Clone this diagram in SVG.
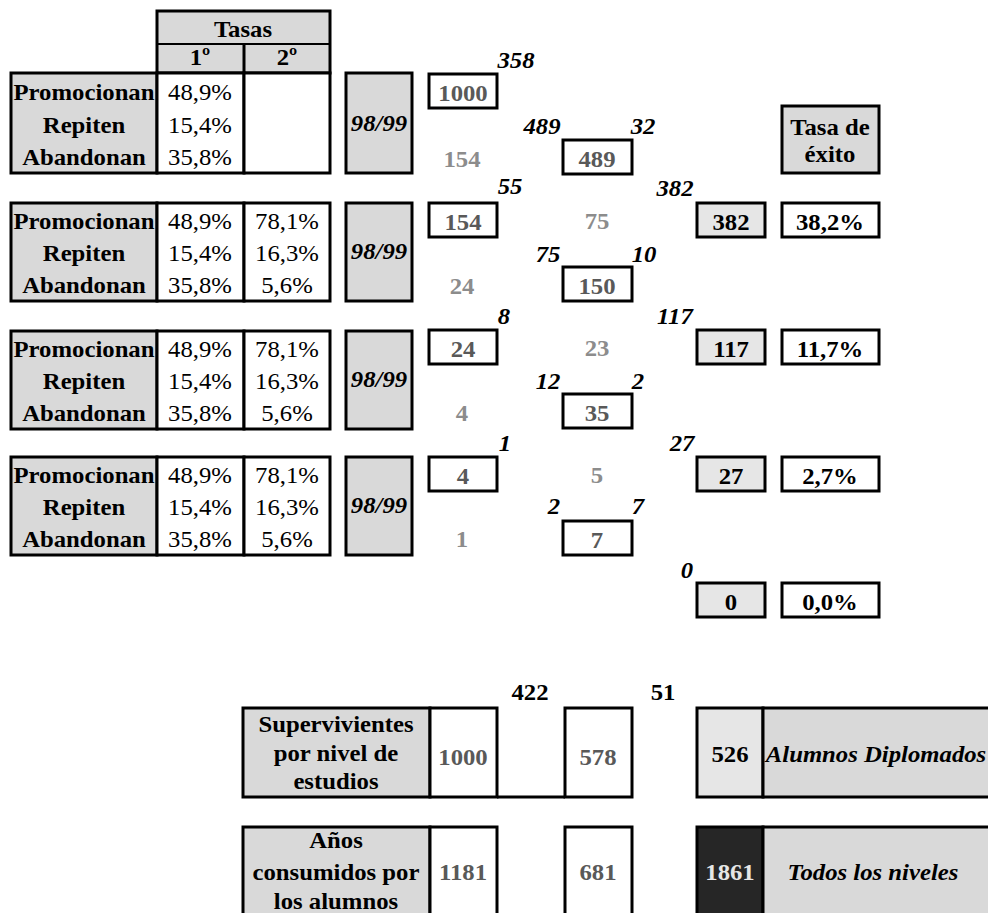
<svg xmlns="http://www.w3.org/2000/svg" width="988" height="913" viewBox="0 0 988 913">
<style>
rect{stroke:#000;stroke-width:3;fill:#fff}
rect.g{fill:#d9d9d9}
rect.lg{fill:#e6e6e6}
rect.dk{fill:#262626}
line{stroke:#000;stroke-width:3}
line.thin{stroke-width:2}
text{font-family:"Liberation Serif","Times New Roman",serif;font-size:24px;text-anchor:middle;fill:#000;transform-box:fill-box;transform-origin:center;transform:scaleX(1.03)}
.bd{font-weight:bold}
.it{font-weight:bold;font-style:italic}
.dg{font-weight:bold;fill:#595959}
.mg{font-weight:bold;fill:#8c8c8c}
.wt{font-weight:bold;fill:#e6e6e6}
</style>
<rect x="0" y="0" width="988" height="913" style="fill:#fff;stroke:none"/>
<g id="connectors"></g>

<g id="header-tasas">
<rect class="g" x="157" y="11" width="173" height="62"/>
<line class="thin" x1="157" y1="44" x2="330" y2="44"/>
<line x1="244" y1="44" x2="244" y2="73"/>
<text class="bd" x="243" y="37">Tasas</text>
<text class="bd" x="200" y="65">1º</text>
<text class="bd" x="287" y="65">2º</text>
</g>

<!-- Block 1 -->
<g id="tabla1">
<rect class="g" x="11" y="73" width="146" height="100"/>
<rect x="157" y="73" width="87" height="100"/>
<rect x="244" y="73" width="86" height="100"/>
<text class="bd" x="84" y="100">Promocionan</text>
<text class="bd" x="84" y="133">Repiten</text>
<text class="bd" x="84" y="165">Abandonan</text>
<text x="200" y="100">48,9%</text>
<text x="200" y="133">15,4%</text>
<text x="200" y="165">35,8%</text>
</g>
<g id="curso1">
<rect class="g" x="346" y="73" width="66" height="100"/>
<text class="it" x="379" y="131">98/99</text>
</g>
<g id="n1000">
<rect x="429" y="74" width="68" height="34"/>
<text class="dg" x="463" y="101">1000</text>
</g>
<text class="it" x="516" y="68">358</text>
<text class="it" x="542" y="134">489</text>
<text class="it" x="643" y="134">32</text>
<text class="mg" x="462" y="167">154</text>
<g id="n489">
<rect x="563" y="140" width="69" height="34"/>
<text class="dg" x="597" y="167">489</text>
</g>
<g id="tasa-exito">
<rect class="g" x="782" y="106" width="97" height="67"/>
<text class="bd" x="830" y="135">Tasa de</text>
<text class="bd" x="830" y="162">éxito</text>
</g>

<!-- Block 2 -->
<g id="tabla2">
<rect class="g" x="11" y="203" width="146" height="98"/>
<rect x="157" y="203" width="87" height="98"/>
<rect x="244" y="203" width="86" height="98"/>
<text class="bd" x="84" y="229">Promocionan</text>
<text class="bd" x="84" y="261">Repiten</text>
<text class="bd" x="84" y="293">Abandonan</text>
<text x="200" y="229">48,9%</text>
<text x="200" y="261">15,4%</text>
<text x="200" y="293">35,8%</text>
<text x="287" y="229">78,1%</text>
<text x="287" y="261">16,3%</text>
<text x="287" y="293">5,6%</text>
</g>
<g id="curso2">
<rect class="g" x="346" y="203" width="66" height="98"/>
<text class="it" x="379" y="259">98/99</text>
</g>
<text class="it" x="510" y="194">55</text>
<text class="it" x="675" y="196">382</text>
<g id="n154">
<rect x="429" y="203" width="68" height="34"/>
<text class="dg" x="463" y="230">154</text>
</g>
<text class="mg" x="597" y="229">75</text>
<g id="n382">
<rect class="lg" x="697" y="203" width="68" height="34"/>
<text class="bd" x="731" y="230">382</text>
</g>
<g id="r382">
<rect x="782" y="203" width="97" height="34"/>
<text class="bd" x="830" y="230">38,2%</text>
</g>
<text class="it" x="548" y="262">75</text>
<text class="it" x="644" y="262">10</text>
<text class="mg" x="462" y="294">24</text>
<g id="n150">
<rect x="563" y="267" width="69" height="34"/>
<text class="dg" x="597" y="294">150</text>
</g>

<!-- Block 3 -->
<g id="tabla3">
<rect class="g" x="11" y="331" width="146" height="98"/>
<rect x="157" y="331" width="87" height="98"/>
<rect x="244" y="331" width="86" height="98"/>
<text class="bd" x="84" y="357">Promocionan</text>
<text class="bd" x="84" y="389">Repiten</text>
<text class="bd" x="84" y="421">Abandonan</text>
<text x="200" y="357">48,9%</text>
<text x="200" y="389">15,4%</text>
<text x="200" y="421">35,8%</text>
<text x="287" y="357">78,1%</text>
<text x="287" y="389">16,3%</text>
<text x="287" y="421">5,6%</text>
</g>
<g id="curso3">
<rect class="g" x="346" y="331" width="66" height="98"/>
<text class="it" x="379" y="387">98/99</text>
</g>
<text class="it" x="504" y="324">8</text>
<text class="it" x="675" y="324">117</text>
<g id="n24">
<rect x="429" y="330" width="68" height="34"/>
<text class="dg" x="463" y="357">24</text>
</g>
<text class="mg" x="597" y="356">23</text>
<g id="n117">
<rect class="lg" x="697" y="330" width="68" height="34"/>
<text class="bd" x="731" y="357">117</text>
</g>
<g id="r117">
<rect x="782" y="330" width="97" height="34"/>
<text class="bd" x="830" y="357">11,7%</text>
</g>
<text class="it" x="548" y="389">12</text>
<text class="it" x="638" y="389">2</text>
<text class="mg" x="462" y="421">4</text>
<g id="n35">
<rect x="563" y="394" width="69" height="34"/>
<text class="dg" x="597" y="421">35</text>
</g>

<!-- Block 4 -->
<g id="tabla4">
<rect class="g" x="11" y="457" width="146" height="98"/>
<rect x="157" y="457" width="87" height="98"/>
<rect x="244" y="457" width="86" height="98"/>
<text class="bd" x="84" y="483">Promocionan</text>
<text class="bd" x="84" y="515">Repiten</text>
<text class="bd" x="84" y="547">Abandonan</text>
<text x="200" y="483">48,9%</text>
<text x="200" y="515">15,4%</text>
<text x="200" y="547">35,8%</text>
<text x="287" y="483">78,1%</text>
<text x="287" y="515">16,3%</text>
<text x="287" y="547">5,6%</text>
</g>
<g id="curso4">
<rect class="g" x="346" y="457" width="66" height="98"/>
<text class="it" x="379" y="513">98/99</text>
</g>
<text class="it" x="505" y="451">1</text>
<text class="it" x="682" y="451">27</text>
<g id="n4">
<rect x="429" y="457" width="68" height="34"/>
<text class="dg" x="463" y="484">4</text>
</g>
<text class="mg" x="597" y="483">5</text>
<g id="n27">
<rect class="lg" x="697" y="457" width="68" height="34"/>
<text class="bd" x="731" y="484">27</text>
</g>
<g id="r27">
<rect x="782" y="457" width="97" height="34"/>
<text class="bd" x="830" y="484">2,7%</text>
</g>
<text class="it" x="554" y="514">2</text>
<text class="it" x="638" y="514">7</text>
<text class="mg" x="462" y="547">1</text>
<g id="n7">
<rect x="563" y="521" width="69" height="34"/>
<text class="dg" x="597" y="548">7</text>
</g>
<text class="it" x="687" y="578">0</text>
<g id="n0">
<rect class="lg" x="697" y="583" width="68" height="34"/>
<text class="bd" x="731" y="610">0</text>
</g>
<g id="r0">
<rect x="782" y="583" width="97" height="34"/>
<text class="bd" x="830" y="610">0,0%</text>
</g>

<!-- Bottom -->
<text class="bd" x="530" y="700">422</text>
<text class="bd" x="663" y="700">51</text>
<g id="supervivientes">
<rect class="g" x="243" y="708" width="187" height="89"/>
<text class="bd" x="336" y="732">Supervivientes</text>
<text class="bd" x="336" y="761">por nivel de</text>
<text class="bd" x="336" y="789">estudios</text>
</g>
<g id="s1000">
<rect x="430" y="708" width="67" height="89"/>
<text class="dg" x="463" y="765">1000</text>
</g>
<line x1="497" y1="797" x2="565" y2="797"/>
<g id="s578">
<rect x="565" y="708" width="67" height="89"/>
<text class="dg" x="598" y="765">578</text>
</g>
<g id="s526">
<rect class="lg" x="697" y="708" width="66" height="89"/>
<text class="bd" x="730" y="762">526</text>
</g>
<g id="diplomados">
<rect class="g" x="763" y="708" width="235" height="89"/>
<text class="it" x="876" y="762">Alumnos Diplomados</text>
</g>
<g id="anos">
<rect class="g" x="243" y="827" width="187" height="100"/>
<text class="bd" x="336" y="848">Años</text>
<text class="bd" x="336" y="880">consumidos por</text>
<text class="bd" x="336" y="909">los alumnos</text>
</g>
<g id="a1181">
<rect x="430" y="827" width="67" height="100"/>
<text class="dg" x="463" y="880">1181</text>
</g>
<g id="a681">
<rect x="565" y="827" width="67" height="100"/>
<text class="dg" x="598" y="880">681</text>
</g>
<g id="a1861">
<rect class="dk" x="697" y="827" width="66" height="100"/>
<text class="wt" x="730" y="880">1861</text>
</g>
<g id="todos">
<rect class="g" x="763" y="827" width="235" height="100"/>
<text class="it" x="873" y="880">Todos los niveles</text>
</g>
</svg>
